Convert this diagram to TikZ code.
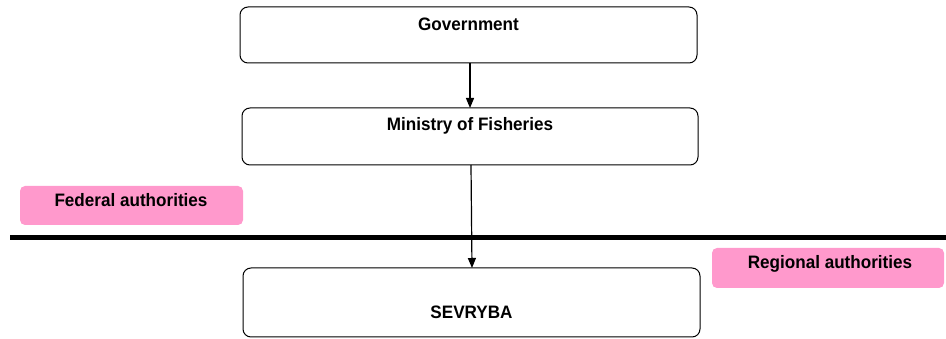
\documentclass[tikz,border=0pt]{standalone}
\usepackage{fontspec}
\setmainfont{Liberation Sans}[FakeStretch=0.95]
\usetikzlibrary{arrows.meta}
\definecolor{pinkfill}{HTML}{FF99CC}
\begin{document}
\begin{tikzpicture}[x=1pt,y=-1pt,
  orgbox/.style={draw=black, line width=1pt, rounded corners=8pt, fill=white},
  tagbox/.style={fill=pinkfill, rounded corners=5pt},
  lbl/.style={font=\fontsize{18}{20}\selectfont\bfseries, inner sep=0pt, anchor=center},
  conn/.style={line width=1.2pt, -{Triangle[length=10pt,width=8pt]}}]
\useasboundingbox (0,0) rectangle (946,339);
% boxes
\draw[orgbox] (240,7) rectangle (697,63);
\node[lbl] (gov) at (468.5,24) {Government};
\draw[orgbox] (242,108) rectangle (698,165);
\node[lbl] (min) at (470,126) {Ministry of Fisheries};
\draw[orgbox] (243,268) rectangle (700,337);
\node[lbl] (sev) at (471.5,312) {SEVRYBA};
% tags
\fill[tagbox] (20,186) rectangle (243,225);
\node[lbl] (fed) at (131,200) {Federal authorities};
\fill[tagbox] (712,248) rectangle (944,288);
\node[lbl] (reg) at (830,264) {Regional authorities};
% divider
\coordinate (lineL) at (10,237.5);
\coordinate (lineR) at (946,237.5);
\draw[line width=5pt] (lineL) -- (lineR);
% connectors
\coordinate (a1s) at (470,63);
\coordinate (a1e) at (470,108);
\coordinate (a2s) at (471,165);
\coordinate (a2e) at (472,268);
\draw[conn] (a1s) -- (a1e);
\draw[conn] (a2s) -- (a2e);
\end{tikzpicture}
\end{document}
